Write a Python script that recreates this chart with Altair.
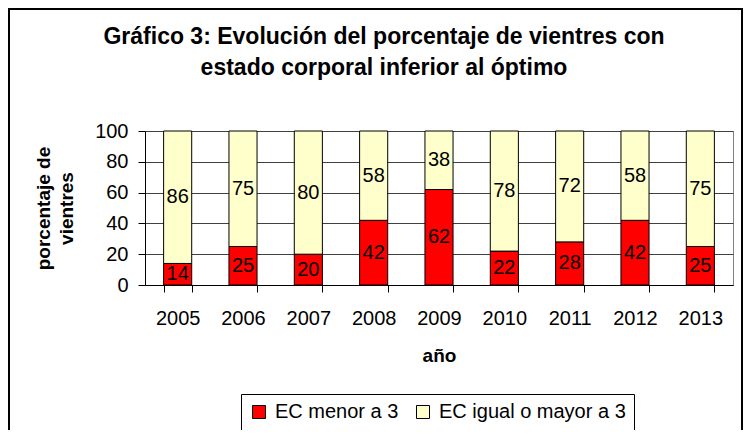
import altair as alt
import pandas as pd

years = ["2005", "2006", "2007", "2008", "2009", "2010", "2011", "2012", "2013"]
menor = [14, 25, 20, 42, 62, 22, 28, 42, 25]
mayor = [86, 75, 80, 58, 38, 78, 72, 58, 75]
series = ["EC menor a 3", "EC igual o mayor a 3"]
colors = ["#FF0000", "#FFFFCC"]
title_lines = ["Gráfico 3: Evolución del porcentaje de vientres con",
               "estado corporal inferior al óptimo"]
y_title = ["porcentaje de", "vientres"]
x_title = "año"
y_ticks = [0, 20, 40, 60, 80, 100]

rows = []
for i, yr in enumerate(years):
    rows.append({"year": yr, "serie": series[0], "value": menor[i], "orden": 0})
    rows.append({"year": yr, "serie": series[1], "value": mayor[i], "orden": 1})
df = pd.DataFrame(rows)

FONT = "Liberation Sans"

base = alt.Chart(df).transform_stack(
    stack="value", groupby=["year"], as_=["y0", "y1"],
    sort=[alt.SortField("orden", order="ascending")]
).transform_calculate(mid="(datum.y0 + datum.y1) / 2")

xaxis = alt.Axis(
    title=x_title, labelAngle=0, tickBand="extent",
    labelFont=FONT, labelFontSize=20, labelColor="black", labelPadding=16,
    tickSize=7, tickColor="black", domainColor="black", grid=False,
    titleFont=FONT, titleFontSize=19, titleFontWeight="bold", titleColor="black",
    titlePadding=18,
)
xscale = alt.Scale(paddingInner=0.57, paddingOuter=0.285)

yaxis = alt.Axis(
    title=y_title, values=y_ticks, labelOverlap=False,
    labelFont=FONT, labelFontSize=20, labelColor="black", labelPadding=10,
    tickSize=7, tickColor="black", domainColor="black",
    grid=True, gridColor="#404040", gridWidth=1,
    titleFont=FONT, titleFontSize=19, titleFontWeight="bold", titleColor="black",
    titleLineHeight=23, titlePadding=18,
)
yscale = alt.Scale(domain=[0, 100], nice=False)

bars = base.mark_bar(stroke="black", strokeWidth=1).encode(
    x=alt.X("year:N", sort=years, scale=xscale, axis=xaxis),
    y=alt.Y("y0:Q", scale=yscale, axis=yaxis),
    y2="y1:Q",
    color=alt.Color(
        "serie:N",
        scale=alt.Scale(domain=series, range=colors),
        legend=alt.Legend(
            title=None, orient="none", legendX=96, legendY=263, direction="horizontal",
            strokeColor="black", fillColor="white", padding=8,
            symbolType="square", symbolSize=169, symbolStrokeColor="black",
            symbolStrokeWidth=1, symbolOpacity=1,
            labelFont=FONT, labelFontSize=20, labelColor="black", labelOffset=6,
            columnPadding=14, labelLimit=400,
        ),
    ),
    order=alt.Order("orden:Q"),
)

labels = base.mark_text(font=FONT, fontSize=20, color="black", baseline="middle").encode(
    x=alt.X("year:N", sort=years, scale=xscale, axis=xaxis),
    y=alt.Y("mid:Q", scale=yscale, axis=yaxis),
    text=alt.Text("value:Q"),
)

one = pd.DataFrame({"k": [0]})

frame = alt.Chart(one).mark_rect(
    fill="transparent", stroke="black", strokeWidth=2
).encode(
    x=alt.value(-136), x2=alt.value(597), y=alt.value(-122), y2=alt.value(330)
)

title = alt.Chart(one).mark_text(
    text=title_lines, font=FONT, fontSize=23, fontWeight="bold", color="black",
    lineHeight=31, align="center", baseline="middle"
).encode(x=alt.value(239), y=alt.value(-94))

chart = alt.layer(bars, labels, frame, title).properties(
    width=588, height=154,
    padding={"left": 137, "top": 123, "right": 10, "bottom": 145},
    autosize=alt.AutoSizeParams(type="none"),
).configure_view(stroke="#808080", strokeWidth=1)

chart.save("out.html", embed_options={"renderer": "svg", "actions": False})
